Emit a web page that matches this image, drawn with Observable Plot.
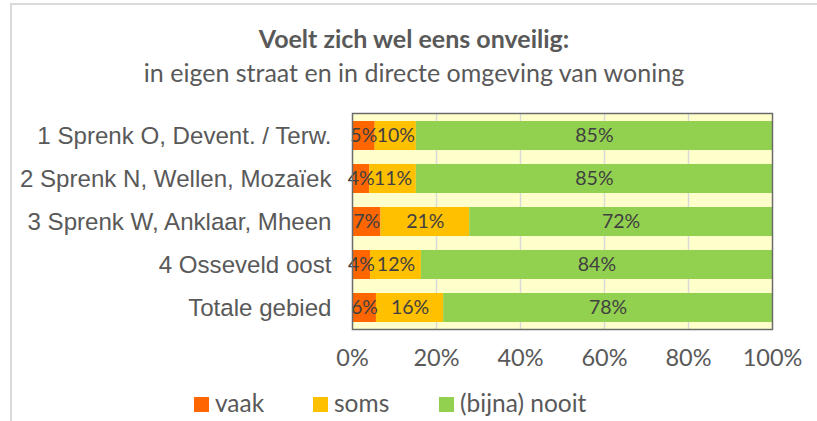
<!DOCTYPE html>
<html><head><meta charset="utf-8">
<script src="https://cdn.jsdelivr.net/npm/d3@7"></script>
<script src="https://cdn.jsdelivr.net/npm/@observablehq/plot@0.6"></script>
<style>
body{margin:0;background:#fff;}
#wrap{position:relative;width:817px;height:421px;overflow:hidden;font-family:Lato,"Open Sans",sans-serif;}
#border{position:absolute;left:10px;top:3px;width:900px;height:500px;border-left:2px solid #d9d9d9;border-top:2px solid #d9d9d9;}
#title{position:absolute;left:11px;width:806px;top:23px;text-align:center;font-weight:bold;font-size:25px;line-height:30px;color:#595959;white-space:nowrap;}
#subtitle{position:absolute;left:11px;width:806px;top:57px;text-align:center;font-size:25px;line-height:30px;color:#595959;white-space:nowrap;}
#plot{position:absolute;left:0;top:100px;}
.item{position:absolute;top:392px;height:26px;line-height:26px;font-size:24.5px;color:#595959;white-space:nowrap;}
.sw{position:absolute;left:0;top:5px;width:15px;height:15px;}
.lab{position:absolute;left:21px;top:-2px;}
</style>
</head><body>
<div id="wrap">
  <div id="border"></div>
  <div id="title">Voelt zich wel eens onveilig:</div>
  <div id="subtitle">in eigen straat en in directe omgeving van woning</div>
  <div id="plot"></div>
  <div id="legend"></div>
</div>
<script>
const categories = ["1 Sprenk O, Devent. / Terw.", "2 Sprenk N, Wellen, Mozaïek", "3 Sprenk W, Anklaar, Mheen", "4 Osseveld oost", "Totale gebied"];
const seriesNames = ["vaak", "soms", "(bijna) nooit"];
const seriesColors = ["#FF6600", "#FFC000", "#92D050"];
const vaak = [5.4, 4.1, 6.8, 4.3, 5.7];
const soms = [9.8, 11.1, 21.1, 12.1, 16.0];
const nooit = [84.8, 84.8, 72.1, 83.6, 78.3];
const xTicks = [0, 20, 40, 60, 80, 100];
const gridTicks = [20, 40, 60, 80];
const legendX = [194, 313, 439];

const seriesValues = [vaak, soms, nooit];
const rows = [];
categories.forEach((c, i) => {
  seriesNames.forEach((s, j) => rows.push({cat: c, series: s, value: seriesValues[j][i]}));
});

const chart = Plot.plot({
  width: 817, height: 280,
  marginLeft: 352, marginRight: 45, marginTop: 13, marginBottom: 51,
  x: {domain: [0, 100], label: null},
  y: {domain: categories, paddingInner: 0.33, paddingOuter: 0.165, label: null},
  color: {domain: seriesNames, range: seriesColors},
  style: {background: "transparent", fontFamily: "Lato, sans-serif", overflow: "visible"},
  marks: [
    Plot.frame({fill: "#FFFFCC", stroke: null}),
    Plot.ruleX(gridTicks, {stroke: "#d9d9d9", strokeWidth: 1.5}),
    Plot.barX(rows, {x: "value", y: "cat", fill: "series"}),
    Plot.text(rows, Plot.stackX({x: "value", y: "cat", text: d => Math.round(d.value) + "%", fill: "#404040", fontSize: 19.5})),
    Plot.frame({stroke: "#6b6b6b", strokeWidth: 1.5}),
    Plot.axisX({ticks: xTicks, tickFormat: d => d + "%", tickSize: 0, tickPadding: 20, fontSize: 23.5, color: "#595959", label: null}),
    Plot.axisY({tickSize: 0, tickPadding: 21, fontSize: 24.1, fontFamily: "'Liberation Sans', Arial, sans-serif", color: "#595959", label: null})
  ]
});
document.getElementById("plot").appendChild(chart);

const legend = document.getElementById("legend");
seriesNames.forEach((s, j) => {
  const it = document.createElement("div");
  it.className = "item";
  it.style.left = legendX[j] + "px";
  it.innerHTML = `<span class="sw" style="background:${seriesColors[j]}"></span><span class="lab">${s}</span>`;
  legend.appendChild(it);
});
</script>
</body></html>
